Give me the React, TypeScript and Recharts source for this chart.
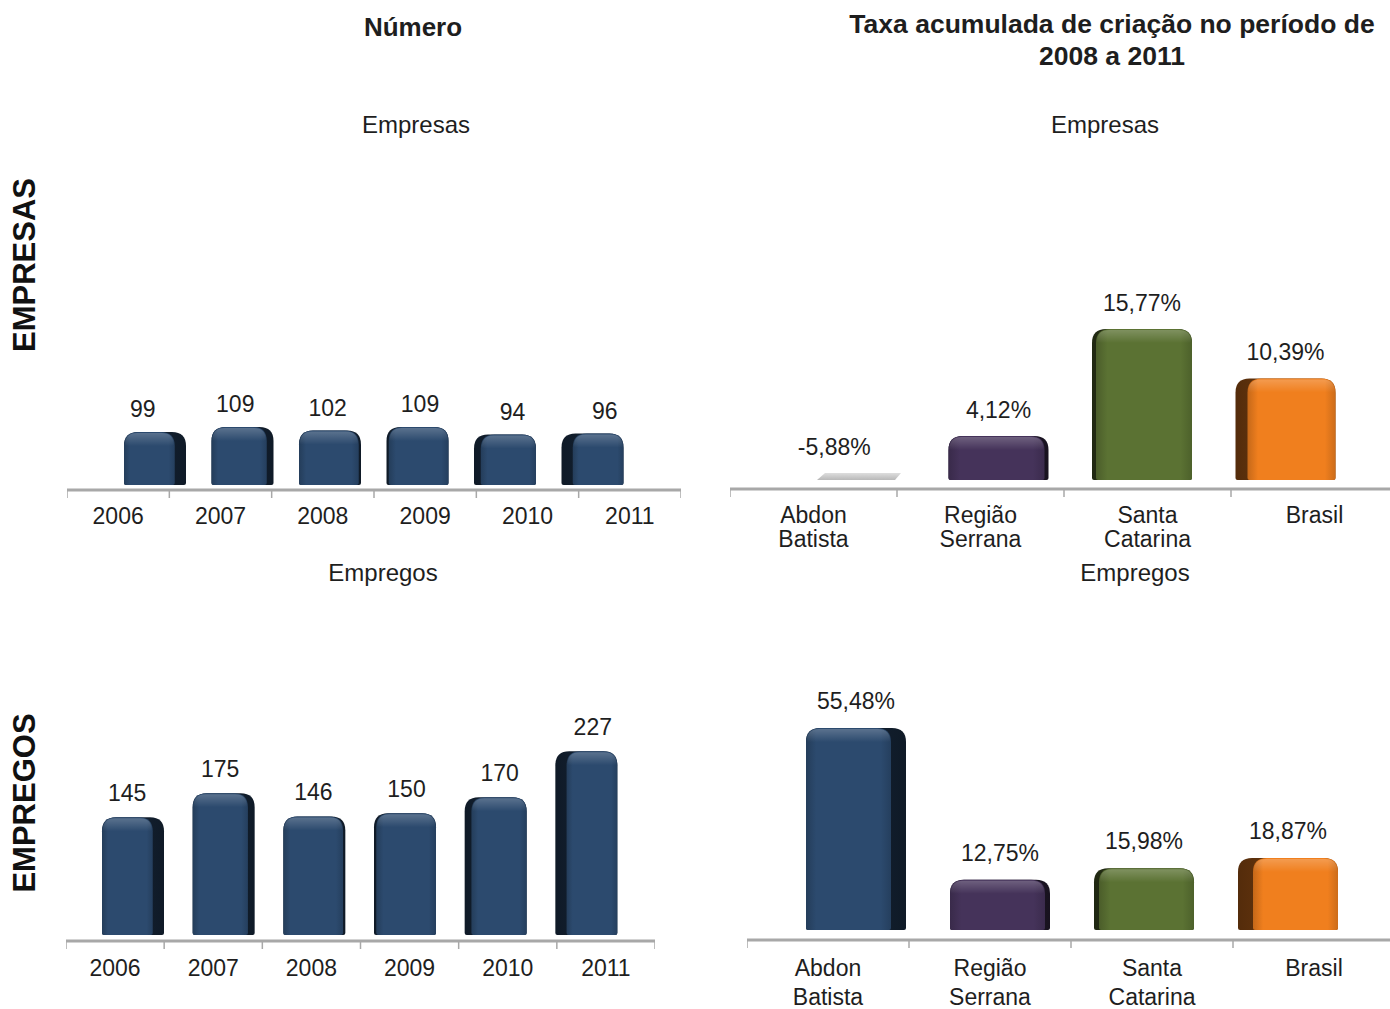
import { Bar, BarChart, XAxis, YAxis } from "recharts";

const anos = ["2006", "2007", "2008", "2009", "2010", "2011"];
const empresasNumero = [99, 109, 102, 109, 94, 96];
const empregosNumero = [145, 175, 146, 150, 170, 227];

const regioes = ["Abdon Batista", "Região Serrana", "Santa Catarina", "Brasil"];
const taxaEmpresas = [-5.88, 4.12, 15.77, 10.39];
const taxaEmpregos = [55.48, 12.75, 15.98, 18.87];

const NAVY = "#2c4a6e";
const regiaoCores = [NAVY, "#45335a", "#5b7233", "#f07f1e"];

const FONT = '"Liberation Sans", Arial, sans-serif';
const TEXT = "#1e1e1e";
const AXIS = "#a8a8a8";

function shade(hex: string, f: number) {
  const n = parseInt(hex.slice(1), 16);
  const c = [(n >> 16) & 255, (n >> 8) & 255, n & 255].map((v) =>
    Math.max(0, Math.min(255, Math.round(v * f)))
  );
  return `rgb(${c[0]},${c[1]},${c[2]})`;
}

const fmtInt = (v: number) => String(v);
const fmtPct = (v: number) => v.toFixed(2).replace(".", ",") + "%";

function topRounded(x0: number, x1: number, top: number, bottom: number, r: number) {
  const rr = Math.max(0, Math.min(r, (x1 - x0) / 2, bottom - top));
  return `M${x0},${bottom - 2} L${x0},${top + rr} Q${x0},${top} ${x0 + rr},${top} L${x1 - rr},${top} Q${x1},${top} ${x1},${top + rr} L${x1},${bottom - 2} Q${x1},${bottom} ${x1 - 2},${bottom} L${x0 + 2},${bottom} Q${x0},${bottom} ${x0},${bottom - 2} Z`;
}

interface PanelCfg {
  id: string;
  left: number;
  top: number;
  width: number;
  plotH: number;
  axisH: number;
  scale: number;
  cap: number;
  lift: number;
  barSize: number;
  padL: number;
  padR: number;
  sideK: number;
  labelT: number;
  labelOff: number;
  tickDy: number;
  tickLineH: number;
  colors: string[];
  fmt: (v: number) => string;
}

function Panel({ cats, values, cfg }: { cats: string[]; values: number[]; cfg: PanelCfg }) {
  const data = cats.map((c, i) => ({ cat: c, value: values[i] }));
  const n = cats.length;
  const band = cfg.width / n;
  const base = cfg.plotH;

  const renderBar = (p: any) => {
    const i = p.index;
    const v = p.payload.value;
    const color = cfg.colors[i % cfg.colors.length];
    const x0 = p.x;
    const x1 = p.x + p.width;
    const floor = base - cfg.lift;
    const cx = (x0 + x1) / 2;
    const axisCx = (i + 0.5) * band;
    const gid = `${cfg.id}-g-${i}`;

    if (v < 0) {
      // negative value: flat floor sliver, as in the source chart
      const top = floor - 7;
      const lx = cx + 0.5 * (axisCx - cx);
      return (
        <g>
          <defs>
            <linearGradient id={gid} x1="0" y1="0" x2="0" y2="1">
              <stop offset="0%" stopColor="#dedede" />
              <stop offset="100%" stopColor="#b8b8b8" />
            </linearGradient>
          </defs>
          <polygon
            points={`${x0 + 12},${floor} ${x0 + 20},${top} ${x1 - 4},${top} ${x1 - 10},${floor}`}
            fill={`url(#${gid})`}
          />
          <text x={lx} y={top - cfg.labelOff + 8} textAnchor="middle" fontFamily={FONT} fontSize={23} fill={TEXT}>
            {cfg.fmt(v)}
          </text>
        </g>
      );
    }

    const lx = cx + cfg.labelT * (axisCx - cx);
    const top = p.y - cfg.cap;
    const sw = cfg.sideK * ((n - 1) / 2 - i);
    const fx0 = sw > 0 ? x0 : x0 - sw;
    const fx1 = sw > 0 ? x1 - sw : x1;
    const r = 14;
    return (
      <g>
        <defs>
          <linearGradient id={gid} x1="0" y1="0" x2="1" y2="0">
            <stop offset="0%" stopColor={shade(color, 0.82)} />
            <stop offset="12%" stopColor={color} />
            <stop offset="88%" stopColor={color} />
            <stop offset="100%" stopColor={shade(color, 0.85)} />
          </linearGradient>
          <linearGradient id={`${gid}-side`} x1={sw > 0 ? "0" : "1"} y1="0" x2={sw > 0 ? "1" : "0"} y2="0">
            <stop offset="0%" stopColor={shade(color, 0.55)} />
            <stop offset="100%" stopColor={shade(color, 0.35)} />
          </linearGradient>
          <linearGradient id={`${gid}-hl`} x1="0" y1="0" x2="0" y2="1">
            <stop offset="0%" stopColor="#ffffff" stopOpacity={0.22} />
            <stop offset="100%" stopColor="#ffffff" stopOpacity={0} />
          </linearGradient>
        </defs>
        <path d={topRounded(x0, x1, top, floor, r)} fill={`url(#${gid}-side)`} />
        <path d={topRounded(fx0, fx1, top, floor, r)} fill={`url(#${gid})`} />
        <path d={topRounded(fx0 + 1, fx1 - 1, top + 1, top + 14, r - 2)} fill={`url(#${gid}-hl)`} />
        <text x={lx} y={top - cfg.labelOff + 8} textAnchor="middle" fontFamily={FONT} fontSize={23} fill={TEXT}>
          {cfg.fmt(v)}
        </text>
      </g>
    );
  };

  const renderTick = (p: any) => {
    const x = p.x;
    const idx = p.index;
    const lines = String(p.payload.value).split(" ");
    const lft = x - band / 2;
    const rgt = x + band / 2;
    return (
      <g>
        <line x1={lft} x2={lft} y1={base} y2={base + 8} stroke={AXIS} strokeWidth={1.5} />
        {idx === n - 1 ? <line x1={rgt} x2={rgt} y1={base} y2={base + 8} stroke={AXIS} strokeWidth={1.5} /> : null}
        <text textAnchor="middle" fontFamily={FONT} fontSize={23} fill={TEXT}>
          {lines.map((l, k) => (
            <tspan key={k} x={x} y={base + cfg.tickDy + k * cfg.tickLineH}>
              {l}
            </tspan>
          ))}
        </text>
      </g>
    );
  };

  return (
    <div style={{ position: "absolute", left: cfg.left, top: cfg.top }}>
      <BarChart
        width={cfg.width}
        height={cfg.plotH + cfg.axisH}
        data={data}
        margin={{ top: 0, right: 0, bottom: 0, left: 0 }}
      >
        <XAxis
          xAxisId="bar"
          dataKey="cat"
          hide
          height={0}
          padding={{ left: cfg.padL, right: cfg.padR }}
        />
        <XAxis
          xAxisId="lbl"
          dataKey="cat"
          height={cfg.axisH}
          axisLine={{ stroke: AXIS, strokeWidth: 3 }}
          tickLine={false}
          tick={renderTick}
          interval={0}
        />
        <YAxis hide domain={[0, cfg.plotH / cfg.scale]} allowDataOverflow />
        <Bar
          xAxisId="bar"
          dataKey="value"
          barSize={cfg.barSize}
          shape={renderBar}
          isAnimationActive={false}
        />
      </BarChart>
    </div>
  );
}

const navyAll = [NAVY];

const cfgEmpresasNum: PanelCfg = {
  id: "en", left: 67, top: 330, width: 614, plotH: 160, axisH: 40,
  scale: 0.5, cap: 8.5, lift: 5, barSize: 62, padL: 44, padR: 45,
  sideK: 4.5, labelT: 0.33, labelOff: 23, tickDy: 34, tickLineH: 24,
  colors: navyAll, fmt: fmtInt,
};

const cfgEmpregosNum: PanelCfg = {
  id: "gn", left: 66, top: 700, width: 589, plotH: 241, axisH: 40,
  scale: 0.805, cap: 7, lift: 6, barSize: 62, padL: 22, padR: 23,
  sideK: 4.5, labelT: 0.33, labelOff: 24, tickDy: 35, tickLineH: 24,
  colors: navyAll, fmt: fmtInt,
};

const cfgEmpresasTaxa: PanelCfg = {
  id: "et", left: 730, top: 280, width: 668, plotH: 209, axisH: 70,
  scale: 9.2, cap: 15, lift: 9, barSize: 100, padL: 53, padR: 41,
  sideK: 8, labelT: 0, labelOff: 26, tickDy: 34, tickLineH: 24,
  colors: regiaoCores, fmt: fmtPct,
};

const cfgEmpregosTaxa: PanelCfg = {
  id: "gt", left: 747, top: 680, width: 648, plotH: 260, axisH: 69,
  scale: 3.55, cap: 15, lift: 10, barSize: 100, padL: 37, padR: 35,
  sideK: 10, labelT: 0, labelOff: 27, tickDy: 36, tickLineH: 29,
  colors: regiaoCores, fmt: fmtPct,
};

function Label({ x, y, size, bold, children }: any) {
  return (
    <div
      style={{
        position: "absolute",
        left: x,
        top: y,
        transform: "translate(-50%, -50%)",
        fontFamily: FONT,
        fontSize: size,
        fontWeight: bold ? 700 : 400,
        color: TEXT,
        whiteSpace: "nowrap",
        textAlign: "center",
        lineHeight: "32px",
      }}
    >
      {children}
    </div>
  );
}

function SideLabel({ y, children }: any) {
  return (
    <div
      style={{
        position: "absolute",
        left: 25,
        top: y,
        transform: "translate(-50%, -50%) rotate(-90deg)",
        fontFamily: FONT,
        fontSize: 31,
        fontWeight: 700,
        color: "#111",
        whiteSpace: "nowrap",
      }}
    >
      {children}
    </div>
  );
}

export default function App() {
  return (
    <div
      style={{
        position: "absolute",
        left: 0,
        top: 0,
        width: 1390,
        height: 1009,
        overflow: "hidden",
        background: "#fff",
      }}
    >
      <Label x={413} y={27} size={26} bold>Número</Label>
      <Label x={1112} y={40} size={26.5} bold>
        Taxa acumulada de criação no período de
        <br />
        2008 a 2011
      </Label>
      <Label x={416} y={125} size={24}>Empresas</Label>
      <Label x={1105} y={125} size={24}>Empresas</Label>
      <Label x={383} y={573} size={24}>Empregos</Label>
      <Label x={1135} y={573} size={24}>Empregos</Label>
      <SideLabel y={265}>EMPRESAS</SideLabel>
      <SideLabel y={803}>EMPREGOS</SideLabel>

      <Panel cats={anos} values={empresasNumero} cfg={cfgEmpresasNum} />
      <Panel cats={anos} values={empregosNumero} cfg={cfgEmpregosNum} />
      <Panel cats={regioes} values={taxaEmpresas} cfg={cfgEmpresasTaxa} />
      <Panel cats={regioes} values={taxaEmpregos} cfg={cfgEmpregosTaxa} />
    </div>
  );
}
